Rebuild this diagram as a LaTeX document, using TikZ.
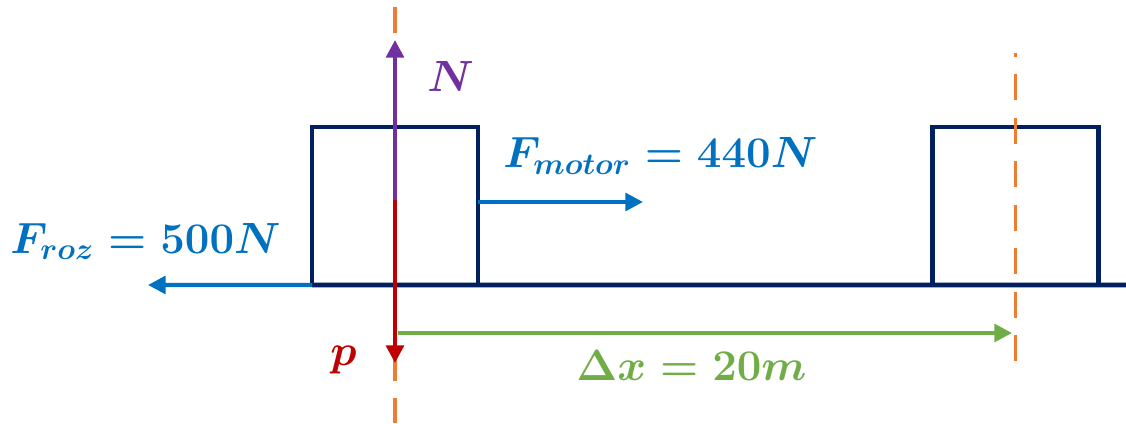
\documentclass[tikz,border=0pt]{standalone}
\usepackage{amsmath,amssymb}
\usepackage{bm}
\usetikzlibrary{arrows.meta,positioning}
\definecolor{boxnavy}{HTML}{002060}
\definecolor{forceblue}{HTML}{0070C0}
\definecolor{normalpurple}{HTML}{7030A0}
\definecolor{weightred}{HTML}{C00000}
\definecolor{shiftgreen}{HTML}{70AD47}
\definecolor{axisorange}{HTML}{ED7D31}
\tikzset{
  block/.style={draw=boxnavy, line width=2.8pt, minimum width=3.32cm,
                minimum height=3.16cm, inner sep=0pt, outer sep=0pt},
  force/.style={line width=2.3pt, -{Triangle[length=10pt,width=10pt]}},
  guide/.style={axisorange, line width=2.2pt, dash pattern=on 0.52cm off 0.35cm},
  flabel/.style={font=\fontsize{23}{27}\selectfont\boldmath, inner sep=0pt}
}
\begin{document}
\begin{tikzpicture}[x=0.02cm, y=0.02cm]
  \useasboundingbox (0,0) rectangle (1126,423);

  %% Block at start and at end
  \node[block] (start) at (395,217) {};
  \node[block] (stop) at (1015.5,217) {};

  %% Ground
  \coordinate (groundend) at (1126,138);
  \draw[boxnavy, line width=2.8pt] (start.south west) -- (groundend);

  %% Dashed guides through the centres
  \coordinate (guidetop) at (395,416);
  \coordinate (guidebot) at (395,0);
  \coordinate (endtop) at (1015.5,370);
  \coordinate (endbot) at (1015.5,61);
  \draw[guide] (guidetop) -- (guidebot);
  \draw[guide, dash phase=0.44cm] (endtop) -- (endbot);

  %% Normal force and weight
  \coordinate (cg) at (395,223);
  \coordinate (ntip) at (395,383);
  \coordinate (ptip) at (395,60);
  \draw[force, normalpurple] (cg) -- (ntip);
  \draw[force, weightred] (cg) -- (ptip);

  %% Horizontal forces
  \coordinate (motortip) at (643,221);
  \coordinate (roztip) at (148,138);
  \draw[force, forceblue] (start.east |- motortip) -- (motortip);
  \draw[force, forceblue] (start.south west) -- (roztip);

  %% Displacement
  \coordinate (shiftstart) at (398,90);
  \coordinate (shifttip) at (1012,90);
  \draw[force, shiftgreen] (shiftstart) -- (shifttip);

  %% Labels
  \node[flabel, normalpurple, anchor=base west] (nlabel) at (427,331) {$N$};
  \node[flabel, weightred, anchor=base west] (plabel) at (330,58) {$p$};
  \node[flabel, forceblue, anchor=base west] (motorlabel) at (503,255)
    {$F_{motor} = 440N$};
  \node[flabel, forceblue, anchor=base west] (rozlabel) at (10,170)
    {$F_{roz} = 500N$};
  \node[flabel, shiftgreen, anchor=base west] (shiftlabel) at (576,43)
    {$\Delta x = 20m$};
\end{tikzpicture}
\end{document}
